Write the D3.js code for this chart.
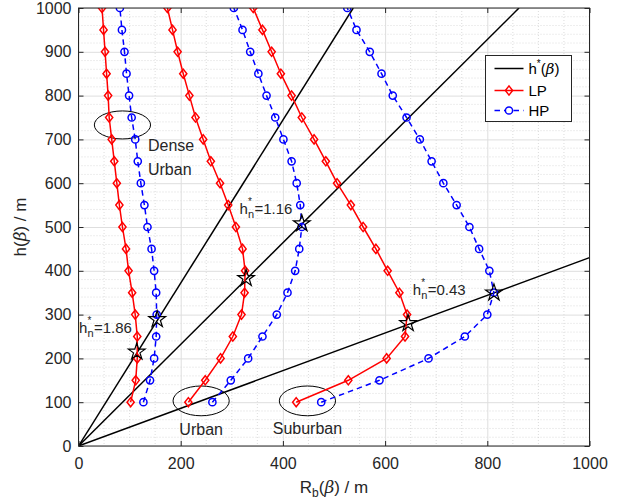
<!DOCTYPE html>
<html>
<head>
<meta charset="utf-8">
<script src="https://cdn.jsdelivr.net/npm/d3@7"></script>
<style>
  html, body { margin: 0; padding: 0; background: #fff; }
  svg { display: block; font-family: "Liberation Sans", Arial, Helvetica, sans-serif; }
</style>
</head>
<body>
<div id="chart"></div>
<script>
// heights h(beta), 100..1000 step 50
const HEIGHTS = [100, 150, 200, 250, 300, 350, 400, 450, 500, 550, 600, 650, 700, 750, 800, 850, 900, 950, 1000];

// R_b(beta) per environment, LP (red) and HP (blue)
const DENSE_LP    = [102, 112, 115, 115, 111, 105, 98, 93, 86, 80, 75, 70, 65, 60, 58, 55, 52, 49, 46];
const DENSE_HP    = [127, 140, 148, 152, 153, 152, 148, 143, 135, 129, 122, 116, 111, 104, 99, 94, 90, 85, 81];
const URBAN_LP    = [215, 248, 278, 302, 319, 325, 326, 321, 308, 293, 277, 259, 244, 229, 217, 205, 194, 184, 174];
const URBAN_HP    = [262, 298, 332, 360, 388, 409, 424, 432, 437, 434, 427, 417, 401, 385, 368, 352, 336, 321, 304];
const SUBURBAN_LP = [426, 528, 603, 639, 643, 628, 605, 582, 557, 533, 506, 484, 461, 437, 417, 396, 378, 360, 342];
const SUBURBAN_HP = [475, 589, 685, 756, 800, 813, 804, 784, 765, 740, 714, 691, 668, 642, 615, 593, 570, 544, 526];

// optimal lines h* = hn * R
const HN_SLOPES = [1.86, 1.16, 0.43];
const HN_LABELS = ["1.86", "1.16", "0.43"];
const HN_LABEL_X = [1, 315, 654];
const HN_LABEL_Y = [258, 530, 345];

// stars (optimal points)
const STAR_X = [114, 154, 328, 437, 645, 813];
const STAR_Y = [215, 289, 383, 508, 280, 350];

// ellipses and region names
const ELL_CX = [86, 240, 448];
const ELL_CY = [733, 103, 103];
const ELL_RX = 55;
const ELL_RY = [32, 34, 34];

const X_TICKS = [0, 200, 400, 600, 800, 1000];
const Y_TICKS = [0, 100, 200, 300, 400, 500, 600, 700, 800, 900, 1000];

const W = 627, H = 503;
const plot = { left: 78.5, right: 589.5, top: 8, bottom: 446 };
const AX = "#262626";

const svg = d3.select("#chart").append("svg")
  .attr("width", W).attr("height", H);

const x = d3.scaleLinear().domain([0, 1000]).range([plot.left, plot.right]);
const y = d3.scaleLinear().domain([0, 1000]).range([plot.bottom, plot.top]);

svg.append("defs").append("clipPath").attr("id", "clip")
  .append("rect")
  .attr("x", plot.left).attr("y", plot.top)
  .attr("width", plot.right - plot.left).attr("height", plot.bottom - plot.top);

// minor grid (dotted)
const gGrid = svg.append("g");
const xMinor = d3.range(0, 1001, 50).filter(v => v % 200 !== 0);
const yMinor = d3.range(0, 1001, 20).filter(v => v % 100 !== 0);
gGrid.selectAll(".xm").data(xMinor).enter().append("line")
  .attr("x1", d => x(d)).attr("x2", d => x(d))
  .attr("y1", plot.top).attr("y2", plot.bottom)
  .attr("stroke", "#c4c4c4").attr("stroke-width", 0.6).attr("stroke-dasharray", "1,2");
gGrid.selectAll(".ym").data(yMinor).enter().append("line")
  .attr("x1", plot.left).attr("x2", plot.right)
  .attr("y1", d => y(d)).attr("y2", d => y(d))
  .attr("stroke", "#c4c4c4").attr("stroke-width", 0.6).attr("stroke-dasharray", "1,2");

// major grid
gGrid.append("g")
  .attr("transform", `translate(0,${plot.bottom})`)
  .call(d3.axisBottom(x).tickValues(X_TICKS).tickSize(-(plot.bottom - plot.top)).tickFormat(""))
  .call(g => g.select(".domain").remove())
  .call(g => g.selectAll("line").attr("stroke", "#dedede"));
gGrid.append("g")
  .attr("transform", `translate(${plot.left},0)`)
  .call(d3.axisLeft(y).tickValues(Y_TICKS).tickSize(-(plot.right - plot.left)).tickFormat(""))
  .call(g => g.select(".domain").remove())
  .call(g => g.selectAll("line").attr("stroke", "#dedede"));

const gData = svg.append("g").attr("clip-path", "url(#clip)");

// h* lines
gData.selectAll(".hline").data(HN_SLOPES).enter().append("line")
  .attr("x1", x(0)).attr("y1", y(0))
  .attr("x2", d => x(Math.min(1000, 1000 / d)))
  .attr("y2", d => y(Math.min(1000, 1000 * d)))
  .attr("stroke", "#000").attr("stroke-width", 1.5);

// ellipses
gData.selectAll(".ell").data(ELL_CX).enter().append("ellipse")
  .attr("cx", d => x(d))
  .attr("cy", (d, i) => y(ELL_CY[i]))
  .attr("rx", x(ELL_RX) - x(0))
  .attr("ry", (d, i) => y(0) - y(ELL_RY[i]))
  .attr("fill", "none").attr("stroke", "#000").attr("stroke-width", 1);

const line = d3.line().x(d => x(d[0])).y(d => y(d[1]));
const diamond = "M0,-4.6L3.6,0L0,4.6L-3.6,0Z";

function drawSeries(vals, kind) {
  const pts = vals.map((v, i) => [v, HEIGHTS[i]]);
  const color = kind === "LP" ? "#ff0000" : "#0000ff";
  gData.append("path").datum(pts)
    .attr("d", line).attr("fill", "none")
    .attr("stroke", color).attr("stroke-width", 1.5)
    .attr("stroke-dasharray", kind === "HP" ? "5.5,4" : null);
  if (kind === "LP") {
    gData.selectAll(null).data(pts).enter().append("path")
      .attr("d", diamond)
      .attr("transform", d => `translate(${x(d[0])},${y(d[1])})`)
      .attr("fill", "none").attr("stroke", color).attr("stroke-width", 1.5);
  } else {
    gData.selectAll(null).data(pts).enter().append("circle")
      .attr("cx", d => x(d[0])).attr("cy", d => y(d[1])).attr("r", 3.6)
      .attr("fill", "none").attr("stroke", color).attr("stroke-width", 1.5);
  }
}
drawSeries(DENSE_LP, "LP");
drawSeries(DENSE_HP, "HP");
drawSeries(URBAN_LP, "LP");
drawSeries(URBAN_HP, "HP");
drawSeries(SUBURBAN_LP, "LP");
drawSeries(SUBURBAN_HP, "HP");

// stars
const star = d3.symbol().type(d3.symbolStar).size(8.8 * 8.8 / 0.8908130915292852);
gData.selectAll(".star").data(STAR_X).enter().append("path")
  .attr("d", star)
  .attr("transform", (d, i) => `translate(${x(d)},${y(STAR_Y[i])})`)
  .attr("fill", "none").attr("stroke", "#000").attr("stroke-width", 1.2);

// axes box + ticks
const tickLen = 5;
const gAx = svg.append("g");
gAx.append("rect")
  .attr("x", plot.left).attr("y", plot.top)
  .attr("width", plot.right - plot.left).attr("height", plot.bottom - plot.top)
  .attr("fill", "none").attr("stroke", AX).attr("stroke-width", 1);

gAx.append("g")
  .attr("transform", `translate(0,${plot.bottom})`)
  .call(d3.axisBottom(x).tickValues(X_TICKS).tickFormat(d3.format("d"))
    .tickSizeInner(-tickLen).tickSizeOuter(0).tickPadding(12));
gAx.append("g")
  .attr("transform", `translate(${plot.left},0)`)
  .call(d3.axisLeft(y).tickValues(Y_TICKS).tickFormat(d3.format("d"))
    .tickSizeInner(-tickLen).tickSizeOuter(0).tickPadding(7));
gAx.append("g")
  .attr("transform", `translate(0,${plot.top})`)
  .call(d3.axisTop(x).tickValues(X_TICKS).tickSizeInner(-tickLen).tickSizeOuter(0).tickFormat(""));
gAx.append("g")
  .attr("transform", `translate(${plot.right},0)`)
  .call(d3.axisRight(y).tickValues(Y_TICKS).tickSizeInner(-tickLen).tickSizeOuter(0).tickFormat(""));
gAx.selectAll(".domain").remove();
gAx.selectAll(".tick line").attr("stroke", AX);
gAx.selectAll(".tick text")
  .attr("fill", AX).attr("font-size", "16px")
  .attr("font-family", "'Liberation Sans', Arial, sans-serif");

// axis titles
svg.append("text")
  .attr("x", (plot.left + plot.right) / 2).attr("y", 493)
  .attr("text-anchor", "middle").attr("fill", AX).attr("font-size", "17px")
  .call(t => {
    t.append("tspan").text("R");
    t.append("tspan").attr("font-size", "12px").attr("dy", 4).text("b");
    t.append("tspan").attr("dy", -4).text("(");
    t.append("tspan").attr("font-family", "'DejaVu Serif', serif").attr("font-style", "italic").text("β");
    t.append("tspan").text(") / m");
  });

svg.append("text")
  .attr("transform", `translate(26,${(plot.top + plot.bottom) / 2}) rotate(-90)`)
  .attr("text-anchor", "middle").attr("fill", AX).attr("font-size", "17px")
  .call(t => {
    t.append("tspan").text("h(");
    t.append("tspan").attr("font-family", "'DejaVu Serif', serif").attr("font-style", "italic").text("β");
    t.append("tspan").text(") / m");
  });

// h_n^* labels
const gLab = svg.append("g").attr("fill", "#262626").attr("font-size", "15px");
HN_LABELS.forEach((lab, i) => {
  const px = x(HN_LABEL_X[i]), py = y(HN_LABEL_Y[i]);
  gLab.append("text").attr("x", px).attr("y", py).text("h");
  gLab.append("text").attr("x", px + 8.5).attr("y", py - 9).attr("font-size", "10px").text("*");
  gLab.append("text").attr("x", px + 8.5).attr("y", py + 4).attr("font-size", "11px").text("n");
  gLab.append("text").attr("x", px + 15).attr("y", py).text("=" + lab);
});

// region names
const gReg = svg.append("g").attr("fill", "#262626").attr("font-size", "16px");
gReg.append("text").attr("x", x(136)).attr("y", y(673)).text("Dense");
gReg.append("text").attr("x", x(136)).attr("y", y(619)).text("Urban");
gReg.append("text").attr("x", x(240)).attr("y", y(25)).attr("text-anchor", "middle").text("Urban");
gReg.append("text").attr("x", x(448)).attr("y", y(27)).attr("text-anchor", "middle").text("Suburban");

// legend
const lg = svg.append("g").attr("transform", "translate(485.5,55.5)");
lg.append("rect").attr("width", 86).attr("height", 66)
  .attr("fill", "#fff").attr("stroke", AX).attr("stroke-width", 1);
const rows = [13, 35, 55];
lg.append("line").attr("x1", 9).attr("x2", 38).attr("y1", rows[0]).attr("y2", rows[0])
  .attr("stroke", "#000").attr("stroke-width", 1.5);
lg.append("line").attr("x1", 9).attr("x2", 38).attr("y1", rows[1]).attr("y2", rows[1])
  .attr("stroke", "#ff0000").attr("stroke-width", 1.5);
lg.append("path").attr("d", diamond).attr("transform", `translate(23.5,${rows[1]})`)
  .attr("fill", "none").attr("stroke", "#ff0000").attr("stroke-width", 1.5);
lg.append("line").attr("x1", 9).attr("x2", 38).attr("y1", rows[2]).attr("y2", rows[2])
  .attr("stroke", "#0000ff").attr("stroke-width", 1.5).attr("stroke-dasharray", "5.5,4");
lg.append("circle").attr("cx", 23.5).attr("cy", rows[2]).attr("r", 3.6)
  .attr("fill", "#fff").attr("stroke", "#0000ff").attr("stroke-width", 1.5);
const lt = lg.append("g").attr("fill", "#000").attr("font-size", "15px");
const t0 = lt.append("text").attr("x", 43).attr("y", rows[0] + 5.5);
t0.append("tspan").text("h");
t0.append("tspan").attr("font-size", "10px").attr("dy", -7).text("*");
t0.append("tspan").attr("dy", 7).text("(");
t0.append("tspan").attr("font-family", "'DejaVu Serif', serif").attr("font-style", "italic").text("β");
t0.append("tspan").text(")");
lt.append("text").attr("x", 43).attr("y", rows[1] + 5.5).text("LP");
lt.append("text").attr("x", 43).attr("y", rows[2] + 5.5).text("HP");
</script>
</body>
</html>
